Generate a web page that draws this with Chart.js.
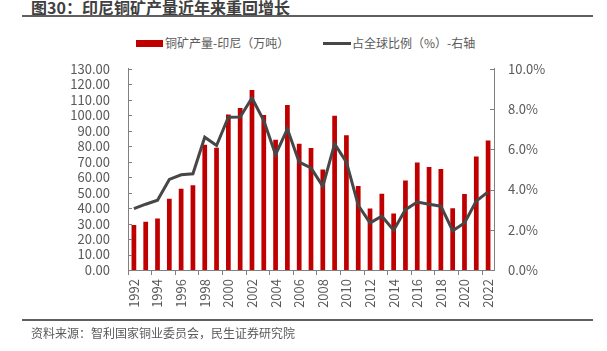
<!DOCTYPE html>
<html>
<head>
<meta charset="utf-8">
<script src="https://cdn.jsdelivr.net/npm/chart.js@4/dist/chart.umd.min.js"></script>
<style>
  body { margin: 0; background: #fff; font-family: "Noto Sans CJK SC", sans-serif; color: #595959; }
  #wrap { position: relative; width: 607px; height: 351px; overflow: hidden; }
  .title { position: absolute; left: 31px; top: -3px; font-size: 16px; font-weight: bold; color: #404040; line-height: 20px; white-space: nowrap; }
  .rule { position: absolute; left: 22px; width: 571px; height: 2px; background: #606060; }
  .legend { position: absolute; top: 34px; font-size: 12px; line-height: 18px; white-space: nowrap; }
  .swatch { position: absolute; }
  .source { position: absolute; left: 31px; top: 324px; font-size: 12px; line-height: 18px; white-space: nowrap; }
  #chartBox { position: absolute; left: 0; top: 43px; width: 607px; height: 277px; }
</style>
</head>
<body>
<div id="wrap">
  <div class="title">图30：印尼铜矿产量近年来重回增长</div>
  <div class="rule" style="top:15px"></div>

  <div class="swatch" style="left:136px; top:40px; width:27px; height:7px; background:#c00000"></div>
  <div class="legend" style="left:165px">铜矿产量-印尼（万吨）</div>
  <div class="swatch" style="left:323px; top:42px; width:28px; height:3px; background:#474747"></div>
  <div class="legend" style="left:352px">占全球比例（%）-右轴</div>

  <div id="chartBox"><canvas id="chart"></canvas></div>

  <div class="rule" style="top:319px"></div>
  <div class="source">资料来源：智利国家铜业委员会，民生证券研究院</div>
</div>
<script>
// years 1992 - 2022
const years = [];
for (let y = 1992; y <= 2022; y++) years.push(String(y));

// Indonesia copper mine output (10k tonnes)
const output = [
    29.0, 31.1, 33.2, 46.1, 52.5, 54.7, 80.9, 79.0, 100.4, 104.7,
    116.3, 100.2, 84.1, 106.6, 81.5, 78.8, 65.0, 99.7, 87.1, 54.3,
    39.7, 49.3, 36.5, 57.9, 69.5, 66.5, 65.2, 39.9, 49.1, 73.4,
    83.7
];

// share of global output (%), right axis
const share = [
    3.05, 3.27, 3.47, 4.50, 4.73, 4.78, 6.60, 6.19, 7.59, 7.60,
    8.55, 7.43, 5.73, 7.01, 5.36, 5.07, 4.16, 6.27, 5.36, 3.22,
    2.34, 2.67, 1.98, 3.00, 3.38, 3.27, 3.17, 1.95, 2.34, 3.43,
    3.88
];

const axisColor = '#808080';
const tickFont = { family: 'Noto Sans CJK SC', size: 13 };

// small tick marks pointing into the plot on both y axes
const innerTicks = {
    id: 'innerTicks',
    afterDraw(chart) {
        const ctx = chart.ctx;
        ctx.save();
        ctx.strokeStyle = axisColor;
        ctx.lineWidth = 1;
        ['y', 'y1'].forEach(id => {
            const s = chart.scales[id];
            const x = id === 'y' ? s.right : s.left;
            const dir = id === 'y' ? 1 : -1;
            s.ticks.forEach((t, i) => {
                const py = Math.round(s.getPixelForTick(i)) + 0.5;
                ctx.beginPath();
                ctx.moveTo(x, py);
                ctx.lineTo(x + dir * 4, py);
                ctx.stroke();
            });
        });
        ctx.restore();
    }
};

Chart.defaults.font.family = 'Noto Sans CJK SC';
Chart.defaults.color = '#595959';

new Chart(document.getElementById('chart'), {
    type: 'bar',
    data: {
        labels: years,
        datasets: [
            {
                type: 'line',
                label: '占全球比例（%）-右轴',
                data: share,
                yAxisID: 'y1',
                borderColor: '#474747',
                borderWidth: 3,
                pointRadius: 0,
                tension: 0,
                order: 0
            },
            {
                label: '铜矿产量-印尼（万吨）',
                data: output,
                yAxisID: 'y',
                backgroundColor: '#c00000',
                barPercentage: 0.4,
                categoryPercentage: 1.0,
                order: 1
            }
        ]
    },
    plugins: [innerTicks],
    options: {
        responsive: true,
        maintainAspectRatio: false,
        animation: false,
        layout: { padding: { top: 11, left: 0, right: 0, bottom: 0 } },
        plugins: {
            legend: { display: false },
            tooltip: { enabled: false }
        },
        scales: {
            x: {
                afterFit(scale) { scale.height = 50; },
                grid: {
                    offset: true,
                    drawOnChartArea: false,
                    tickLength: 5,
                    color: c => (c.index % 2 === 0 ? axisColor : 'rgba(0,0,0,0)')
                },
                border: { color: axisColor, width: 1 },
                ticks: {
                    autoSkip: false,
                    minRotation: 90,
                    maxRotation: 90,
                    padding: 4,
                    font: tickFont,
                    callback: (v, i) => (i % 2 === 0 ? years[i] : '')
                }
            },
            y: {
                position: 'left',
                min: 0,
                max: 130,
                afterFit(scale) { scale.width = 128; },
                grid: { display: false, drawTicks: false },
                border: { color: axisColor, width: 1 },
                ticks: {
                    stepSize: 10,
                    maxTicksLimit: 20,
                    autoSkip: false,
                    padding: 18,
                    font: tickFont,
                    callback: v => v.toFixed(2)
                }
            },
            y1: {
                position: 'right',
                min: 0,
                max: 10,
                afterFit(scale) { scale.width = 113; },
                grid: { display: false, drawTicks: false },
                border: { color: axisColor, width: 1 },
                ticks: {
                    stepSize: 2,
                    autoSkip: false,
                    padding: 14,
                    font: tickFont,
                    callback: v => v.toFixed(1) + '%'
                }
            }
        }
    }
});
</script>
</body>
</html>
